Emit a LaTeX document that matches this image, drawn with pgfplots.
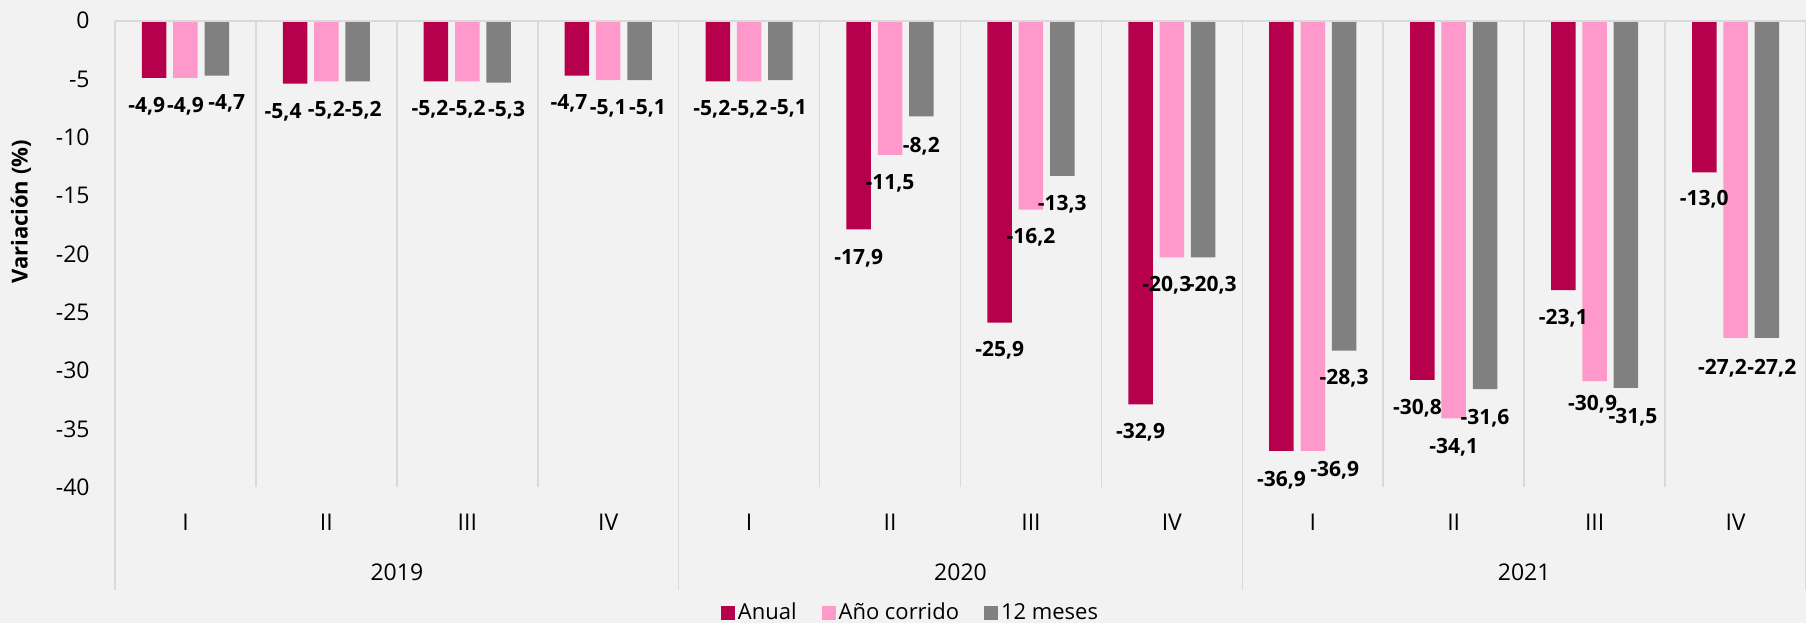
\documentclass[border=0pt]{standalone}
\usepackage{pgfplots}
\usepackage{pgfplotstable}
\pgfplotsset{compat=1.18}
\usepackage{fontspec}
\setmainfont{Open Sans}
\definecolor{bgc}{HTML}{F2F2F2}
\definecolor{gridc}{HTML}{D9D9D9}
\definecolor{anual}{HTML}{B7004B}
\definecolor{anio}{HTML}{FF99CC}
\definecolor{doce}{HTML}{808080}
\pgfplotsset{sqlegend/.style={legend image code/.code={\fill[##1] (0pt,-3.5pt) rectangle (7pt,3.5pt);}}}
% x = category, y = value, dx/dy = label offsets (pt)
\pgfplotstableread{
x y dx dy
0 -4.9 -3.7 -14
1 -5.4 -6 -14.5
2 -5.2 -3 -14
3 -4.7 -4 -14
4 -5.2 -3 -14
5 -17.9 0 -14.5
6 -25.9 0 -14
7 -32.9 0 -14
8 -36.9 0 -14.5
9 -30.8 -2.5 -14
10 -23.1 0 -14
11 -13.0 0 -13.5
}\anual
\pgfplotstableread{
x y dx dy
0 -4.9 0 -14
1 -5.2 0 -14.5
2 -5.2 0 -14
3 -5.1 0 -14
4 -5.2 0 -14
5 -11.5 0 -14.5
6 -16.2 0 -14
7 -20.3 -2.5 -14
8 -36.9 11 -9.5
9 -34.1 0 -14.5
10 -30.9 -1 -11.5
11 -27.2 -6.5 -15
}\anio
\pgfplotstableread{
x y dx dy
0 -4.7 5 -14
1 -5.2 2.75 -14.5
2 -5.3 4 -14
3 -5.1 4 -14
4 -5.1 4 -14
5 -8.2 0 -15
6 -13.3 0 -14
7 -20.3 4.5 -14
8 -28.3 0 -14
9 -31.6 0 -14.5
10 -31.5 3.5 -14.5
11 -27.2 2.5 -15
}\doce
\begin{document}
\begin{tikzpicture}
\fill[bgc] (0,0) rectangle (903pt,-311.5pt);
\begin{axis}[
 at={(57.5pt,-10.35pt)}, anchor=north west,
 scale only axis, width=845.5pt, height=233.2pt,
 xmin=-0.5, xmax=11.5, ymin=-40, ymax=0,
 ybar=3.4pt, bar width=12.25pt,
 axis line style={draw=none},
 major tick length=0pt, minor tick length=0pt,
 xtick={0,...,11},
 xticklabels={I,II,III,IV,I,II,III,IV,I,II,III,IV},
 ytick={-40,-35,...,0},
 minor xtick={0.5,1.5,...,10.5},
 xminorgrids, minor x grid style={gridc, line width=0.8pt},
 tick label style={font=\fontsize{11.5}{13}\selectfont, text=black},
 xticklabel style={anchor=center, yshift=-17.5pt, inner sep=0pt},
 yticklabel style={anchor=east, inner sep=0pt, xshift=-12.5pt},
 /pgf/number format/assume math mode=true,
 ylabel={\bfseries Variación (\%)},
 ylabel style={at={(axis description cs:-0.0556,0.59)}, anchor=center, font=\fontsize{11}{13}\selectfont},
 visualization depends on={\thisrow{dx} \as \labeldx},
 visualization depends on={\thisrow{dy} \as \labeldy},
 nodes near coords={\pgfmathprintnumber[fixed,fixed zerofill,precision=1,use comma,assume math mode=true]{\pgfplotspointmeta}},
 every node near coord/.append style={font=\fontsize{10.5}{12}\selectfont\bfseries, text=black, anchor=center, xshift=\labeldx pt, yshift=\labeldy pt},
 legend style={at={(axis description cs:0.4707,-0.270)}, anchor=center, legend columns=3, draw=none, fill=none, font=\fontsize{11}{13}\selectfont, /tikz/every even column/.append style={column sep=11pt}, nodes={inner sep=1.5pt}},
 clip=false,
]
\addplot[fill=anual, draw=none, sqlegend] table[x=x,y=y] {\anual};
\addplot[fill=anio, draw=none, sqlegend] table[x=x,y=y] {\anio};
\addplot[fill=doce, draw=none, sqlegend] table[x=x,y=y] {\doce};
\legend{Anual, Año corrido, 12 meses}
\draw[gridc, line width=0.8pt] (axis cs:-0.5,0) -- (axis cs:11.5,0);
\draw[gridc, line width=0.8pt] (axis cs:-0.5,0) -- (axis cs:-0.5,-48.83);
\draw[gridc, line width=0.8pt] (axis cs:3.5,-40) -- (axis cs:3.5,-48.83);
\draw[gridc, line width=0.8pt] (axis cs:7.5,-40) -- (axis cs:7.5,-48.83);
\draw[gridc, line width=0.8pt] (axis cs:11.5,0) -- (axis cs:11.5,-48.83);
\node[font=\fontsize{11.5}{13}\selectfont, yshift=-42.5pt] at (axis cs:1.5,-40) {2019};
\node[font=\fontsize{11.5}{13}\selectfont, yshift=-42.5pt] at (axis cs:5.5,-40) {2020};
\node[font=\fontsize{11.5}{13}\selectfont, yshift=-42.5pt] at (axis cs:9.5,-40) {2021};
\end{axis}
\pgfresetboundingbox
\path (0,0) rectangle (903pt,-311.5pt);
\end{tikzpicture}
\end{document}
